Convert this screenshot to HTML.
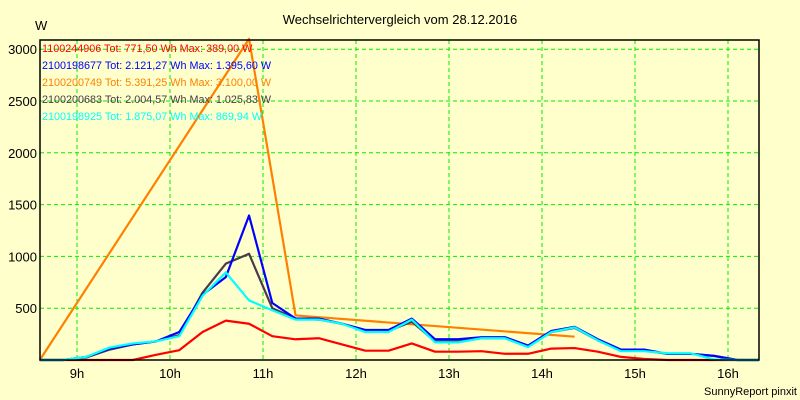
<!DOCTYPE html>
<html><head><meta charset="utf-8"><style>
body{margin:0;background:#ffffcc;}
svg{display:block;font-family:"Liberation Sans",sans-serif;}
</style></head><body>
<svg id="chart" width="800" height="400" xmlns="http://www.w3.org/2000/svg">
<rect x="0" y="0" width="800" height="400" fill="#ffffcc"/>
<text x="400" y="24" text-anchor="middle" font-size="13">Wechselrichtervergleich vom 28.12.2016</text>
<text x="35" y="30" font-size="13">W</text>
<text x="797" y="395" text-anchor="end" font-size="11">SunnyReport pinxit</text>
<g id="grid"></g><g id="series"></g><g id="axes"></g><g id="legend"></g>
</svg>
<script>
const times = [8.6,8.85,9.1,9.35,9.6,9.85,10.1,10.35,10.6,10.85,11.1,11.35,11.6,11.85,12.1,12.35,12.6,12.85,13.1,13.35,13.6,13.85,14.1,14.35,14.6,14.85,15.1,15.35,15.6,15.85,16.1,16.33];
const redVals = [0,0,0,0,0,50,95,270,380,350,230,200,210,150,90,90,160,80,80,85,60,60,110,115,80,30,10,0,0,0,0,0];
const blueVals = [0,0,30,110,150,180,270,630,800,1395,550,400,400,350,290,290,400,200,200,220,220,140,280,320,200,100,100,60,60,40,0,0];
const darkVals = [0,0,25,100,150,180,240,650,930,1025,500,400,390,350,280,280,370,180,180,210,210,130,270,310,190,90,90,60,60,40,0,0];
const cyanVals = [0,0,30,120,160,180,230,620,845,575,480,390,390,350,270,270,390,170,170,210,210,125,270,315,190,85,85,65,65,5,0,0];
const orangeTimes = [8.6,10.85,11.35,14.35];
const orangeVals = [0,3100,430,225];
const yTicks = [500,1000,1500,2000,2500,3000];
const xTicks = [9,10,11,12,13,14,15,16];
const xTickLabels = ["9h","10h","11h","12h","13h","14h","15h","16h"];
const legendLabels = ["1100244906 Tot: 771,50 Wh Max: 389,00 W","2100198677 Tot: 2.121,27 Wh Max: 1.395,60 W","2100200749 Tot: 5.391,25 Wh Max: 3.100,00 W","2100200683 Tot: 2.004,57 Wh Max: 1.025,83 W","2100198925 Tot: 1.875,07 Wh Max: 869,94 W"];
const legendColors = ["#ff0000","#0000ff","#ff8000","#4a3a4a","#00ffff"];

const L=40,R=759,T=40,B=360;
const xs=t=>77+(t-9)*93.0;
const ys=v=>B-v*0.1036;
const NS="http://www.w3.org/2000/svg";
function mk(tag,attrs,parent){const e=document.createElementNS(NS,tag);for(const k in attrs)e.setAttribute(k,attrs[k]);parent.appendChild(e);return e;}
const grid=document.getElementById('grid'),axes=document.getElementById('axes'),ser=document.getElementById('series'),leg=document.getElementById('legend');
yTicks.forEach(v=>{
 const l=mk('line',{x1:L,x2:R,y1:ys(v),y2:ys(v),stroke:'#00ee00','stroke-dasharray':'4,3','stroke-width':1},grid);
 
 
 const t=mk('text',{x:L-3,y:ys(v)+5,'text-anchor':'end','font-size':13},axes);
 t.textContent=v;
 
 
});
xTicks.forEach((h,i)=>{
 const l=mk('line',{x1:xs(h),x2:xs(h),y1:T,y2:B,stroke:'#00ee00','stroke-dasharray':'4,3','stroke-width':1},grid);
 
 
 const t=mk('text',{x:xs(h),y:378,'text-anchor':'middle','font-size':13},axes);
 t.textContent=xTickLabels[i];
 
 
});
const fr=mk('rect',{x:L,y:T,width:R-L,height:B-T,fill:'none',stroke:'#000','stroke-width':1.5},axes);


function line(tt,vals,color,name){
 const p=mk('polyline',{points:tt.map((t,i)=>xs(t)+','+ys(vals[i])).join(' '),fill:'none',stroke:color,'stroke-width':2.2,'stroke-linejoin':'round'},ser);
 
 
}
line(orangeTimes,orangeVals,'#ff8000','series-2100200749');
line(times,redVals,'#ff0000','series-1100244906');
line(times,darkVals,'#4a3a4a','series-2100200683');
line(times,blueVals,'#0000ff','series-2100198677');
line(times,cyanVals,'#00ffff','series-2100198925');
legendLabels.forEach((s,i)=>{
 const t=mk('text',{x:42,y:52+i*17,'font-size':10.8,fill:legendColors[i]},leg);
 t.textContent=s;
 
 
});
</script>
</body></html>
